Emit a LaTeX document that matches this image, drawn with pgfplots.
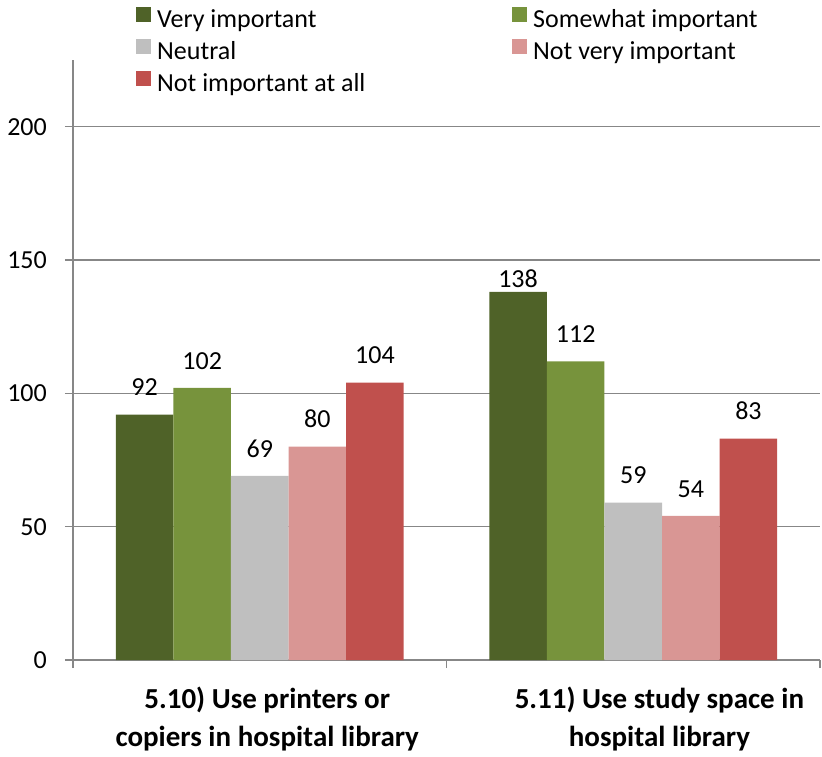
\documentclass[border=0pt]{standalone}
\usepackage{pgfplots}
\pgfplotsset{compat=1.18}
\usepackage{fontspec}
\setmainfont{Carlito}
\definecolor{c1}{HTML}{4F6228}
\definecolor{c2}{HTML}{77933C}
\definecolor{c3}{HTML}{BFBFBF}
\definecolor{c4}{HTML}{D99694}
\definecolor{c5}{HTML}{C0504D}
\definecolor{gridc}{HTML}{878787}
\newcommand{\fs}{\fontsize{26bp}{31bp}\selectfont}
\newcommand{\fb}{\fontsize{29bp}{38bp}\selectfont\bfseries}
\pgfplotsset{sq/.style={draw=none, legend image code/.code={\fill[##1] (0bp,0bp) rectangle (15bp,15bp);}}}
\begin{document}
\begin{tikzpicture}
\useasboundingbox (-73bp,-97bp) rectangle (749bp,660bp);
\begin{axis}[
  at={(0,0)}, anchor=south west,
  scale only axis, width=747bp, height=600bp,
  ybar=0pt, bar width=0.1542,
  xmin=-0.5, xmax=1.5, ymin=0, ymax=225,
  axis x line*=bottom, axis y line*=left,
  axis line style={gridc, line width=1.6bp},
  ytick={0,50,100,150,200},
  ymajorgrids, grid style={gridc, line width=1.6bp},
  tick align=outside,
  major tick length=8bp,
  tick style={gridc, line width=1.6bp},
  xtick={-0.5,0.5,1.5},
  xticklabels={},
  extra x ticks={0.02,1.07},
  extra x tick labels={{5.10) Use printers or\\copiers in hospital library},{5.11) Use study space in\\hospital library}},
  extra x tick style={major tick length=0pt, xticklabel style={font=\fb, align=center, inner sep=0pt, yshift=-27bp}},
  yticklabel style={font=\fs, inner sep=0pt, xshift=-18bp},
  /pgf/number format/assume math mode=true,
  nodes near coords,
  every node near coord/.append style={font=\fs, black, anchor=base, inner sep=0pt, yshift=\off},
  visualization depends on={value \thisrow{off} \as \off},
  legend columns=2,
  legend style={at={(0,1)}, anchor=north west, xshift=63bp, yshift=53bp, draw=none, fill=none, inner sep=0pt,
    nodes={font=\fs, inner sep=0pt, text height=17bp, text depth=6bp, text width=355bp, align=flush left},
    /tikz/every odd column/.append style={column sep=6bp},
    /tikz/every even column/.append style={column sep=0bp},
    row sep=5.5bp},
]
\addplot[sq, fill=c1] table {x y off
0 92 19
1 138 5
};
\addplot[sq, fill=c2] table {x y off
0 102 19
1 112 19
};
\addplot[sq, fill=c3] table {x y off
0 69 19
1 59 19
};
\addplot[sq, fill=c4] table {x y off
0 80 19
1 54 19
};
\addplot[sq, fill=c5] table {x y off
0 104 19
1 83 19
};
\legend{Very important, Somewhat important, Neutral, Not very important, Not important at all}
\end{axis}
\end{tikzpicture}
\end{document}
